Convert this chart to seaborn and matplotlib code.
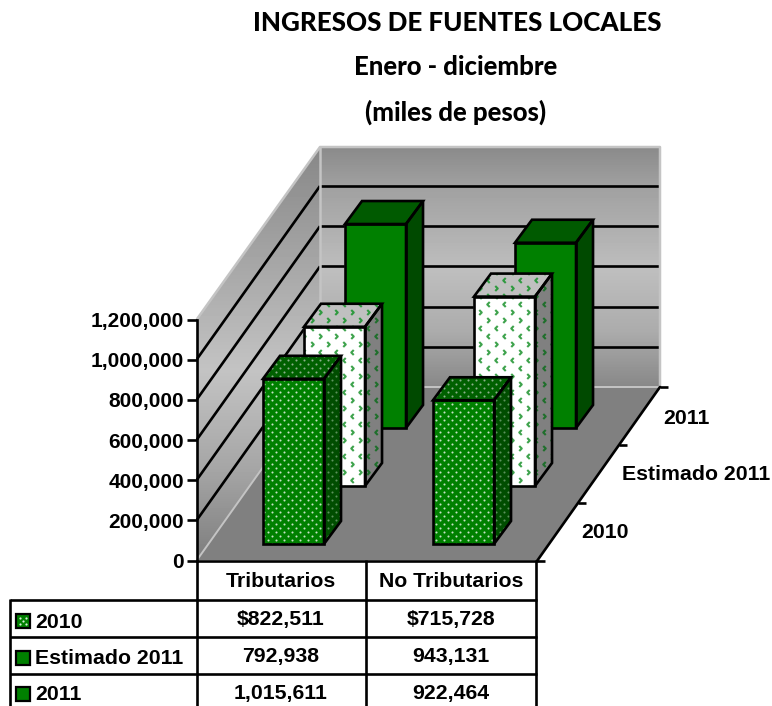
import numpy as np
import pandas as pd
import matplotlib
matplotlib.use('Agg')
import matplotlib.pyplot as plt
import seaborn as sns
from matplotlib.patches import Polygon, Rectangle
from matplotlib.path import Path
from matplotlib.transforms import Affine2D

# Data
categories = ['Tributarios', 'No Tributarios']
series_names = ['2010', 'Estimado 2011', '2011']
values_2010 = [822511, 715728]
values_est = [792938, 943131]
values_2011 = [1015611, 922464]
row_2010 = ['$822,511', '$715,728']
row_est = ['792,938', '943,131']
row_2011 = ['1,015,611', '922,464']
y_ticks = [0, 200000, 400000, 600000, 800000, 1000000, 1200000]

W, H = 772, 706
sns.set_theme(style='white')
plt.rcParams['font.family'] = ['Liberation Sans', 'DejaVu Sans']

fig = plt.figure(figsize=(W / 100, H / 100), dpi=100, facecolor='white')
px = Affine2D().scale(1, -1).translate(0, H)  # picture pixels, y going down

LW = 1.9
FS = 15.3


def make_axes(x0, y_bottom, x1, y_top):
    return fig.add_axes([x0 / W, 1 - y_bottom / H, (x1 - x0) / W, (y_bottom - y_top) / H])


# Background: walls, floor, gridlines
bg = fig.add_axes([0, 0, 1, 1])
bg.set_xlim(0, W)
bg.set_ylim(H, 0)
bg.axis('off')


def gradient_wall(verts, ys, greys):
    rows = np.arange(147, 562)
    shade = np.interp(rows, ys, greys)[:, None]
    im = bg.imshow(shade, cmap='gray', vmin=0, vmax=255, aspect='auto', extent=(190, 670, 562, 147))
    clip = Polygon(verts, closed=True, fc='none', ec='none')
    bg.add_patch(clip)
    im.set_clip_path(clip)


gradient_wall([(320, 147), (660, 147), (660, 387), (320, 387)], [147, 185, 270, 330, 387], [138, 160, 190, 172, 135])
gradient_wall([(197, 319), (320, 147), (320, 387), (197, 560)], [147, 370, 470, 560], [135, 195, 165, 125])
bg.set_xlim(0, W)
bg.set_ylim(H, 0)
bg.add_patch(Polygon([(197, 560), (537, 560), (660, 387), (320, 387)], closed=True, fc='#808080', ec='none'))

for k in range(1, 6):
    yb = 387 - 40.2 * k
    bg.plot([320, 660], [yb, yb], color='black', lw=LW, solid_capstyle='butt')
    bg.plot([197, 320], [560 - 40.2 * k, yb], color='black', lw=LW, solid_capstyle='butt')

edge = '#c4c4c4'
bg.plot([197, 320, 660, 660], [319, 147, 147, 387], color=edge, lw=1.8)
bg.plot([320, 320], [147, 387], color=edge, lw=1.8)
bg.plot([197, 320, 660], [560, 387, 387], color=edge, lw=1.4)

# front plane axes, gives the value axis
front = make_axes(197, 560.5, 537, 319.5)
front.patch.set_alpha(0)
front.set_ylim(0, 1200000)
front.set_xlim(0, 1)
front.set_yticks(y_ticks)
front.set_yticklabels([f'{v:,}' for v in y_ticks], fontsize=15.05, fontweight='bold', color='black')
front.set_xticks([])
front.tick_params(axis='y', left=True, length=7.5, width=LW, color='black', pad=2)
sns.despine(ax=front, top=True, right=True, bottom=True)
front.spines['left'].set_linewidth(LW)
front.spines['left'].set_color('black')

DEPTH = (17, -23)
GREEN = '#008000'
styles = [
    {'front': GREEN, 'top': '#006000', 'side': '#004d00', 'kind': 'dots',
     'pat': ['#c6e2c6', '#8cb08c', '#5c925c']},
    {'front': '#ffffff', 'top': '#c0c0c0', 'side': '#808080', 'kind': 'chev',
     'pat': ['#3fa34d', '#2f9a40', '#1f6f2c']},
    {'front': GREEN, 'top': '#005a00', 'side': '#004a00', 'kind': None, 'pat': None},
]
chev = Path([(0.5, 1), (-0.5, 0), (0.5, -1)], [Path.MOVETO, Path.LINETO, Path.LINETO])
chev_r = Path([(-0.5, 1), (0.5, 0), (-0.5, -1)], [Path.MOVETO, Path.LINETO, Path.LINETO])


def fill_pattern(ax, verts, face, kind, color):
    poly = Polygon(verts, closed=True, fc=face, ec='none', transform=px, clip_on=False)
    ax.add_patch(poly)
    if kind is None:
        return
    xs = [v[0] for v in verts]
    ys = [v[1] for v in verts]
    if kind == 'dots':
        gy = np.arange(int(min(ys)) // 4 * 4, max(ys) + 4, 4)
        pts = [(x + (2 if int(y) % 8 else 0) * 2, y) for y in gy
               for x in np.arange(int(min(xs)) // 8 * 8 - 8, max(xs) + 8, 8)]
        arr = np.array(pts)
        art, = ax.plot(arr[:, 0], arr[:, 1], ls='', marker='o', ms=1.5, mew=0, color=color,
                       transform=px, scalex=False, scaley=False)
        art.set_clip_path(poly)
    else:
        gy = np.arange(int(min(ys)) // 8 * 8, max(ys) + 8, 8)
        for n, y in enumerate(gy):
            gx = np.arange(int(min(xs)) // 16 * 16 - 16, max(xs) + 16, 16) + (8 if n % 2 else 0)
            art, = ax.plot(gx + 0.0, np.full(len(gx), y), ls='', marker=chev if n % 4 < 2 else chev_r,
                           ms=3.6, mew=1.5, mfc='none', color=color, transform=px,
                           scalex=False, scaley=False)
            art.set_clip_path(poly)


def key(x, y, face, dotted):
    bg.add_patch(Rectangle((x, y), 14, 14, fc=face, ec='black', lw=1.6, zorder=5))
    if dotted:
        dx = [x + 4, x + 10, x + 7, x + 4, x + 10]
        dy = [y + 4, y + 4, y + 7, y + 10, y + 10]
        bg.plot(dx, dy, ls='', marker='o', ms=1.6, mew=0, color='#d8ecd8', zorder=6)


# One axes per series, back to front, shifted along the depth direction
all_values = [values_2010, values_est, values_2011]
for i in [2, 1, 0]:
    ox = 11.5 + 41 * i
    oy = 544 - 58 * i
    ax = make_axes(197 + ox, oy, 537 + ox, oy - 241)
    df = pd.DataFrame({'category': categories, 'value': all_values[i]})
    sns.barplot(data=df, x='category', y='value', color=styles[i]['front'], saturation=1,
                width=0.359, errorbar=None, ax=ax)
    ax.set_xlim(-0.5, 1.5)
    ax.set_ylim(0, 1200000)
    ax.autoscale(False)
    ax.axis('off')
    st = styles[i]
    for bar in list(ax.patches):
        x0, y0 = ax.transData.transform((bar.get_x(), 0))
        x1, y1 = ax.transData.transform((bar.get_x() + bar.get_width(), bar.get_height()))
        y0, y1 = H - y0, H - y1
        dx, dy = DEPTH
        front_v = [(x0, y0), (x1, y0), (x1, y1), (x0, y1)]
        top_v = [(x0, y1), (x1, y1), (x1 + dx, y1 + dy), (x0 + dx, y1 + dy)]
        side_v = [(x1, y0), (x1 + dx, y0 + dy), (x1 + dx, y1 + dy), (x1, y1)]
        pats = st['pat'] or [None, None, None]
        fill_pattern(ax, front_v, st['front'], st['kind'], pats[0])
        fill_pattern(ax, top_v, st['top'], st['kind'], pats[1])
        fill_pattern(ax, side_v, st['side'], st['kind'], pats[2])
        for v in (front_v, top_v, side_v):
            ax.add_patch(Polygon(v, closed=True, fc='none', ec='black', lw=LW, joinstyle='miter',
                                 transform=px, clip_on=False, zorder=4))

# Depth axis
bg.plot([537, 660], [561, 387], color='black', lw=LW)
for n in range(4):
    tx = 537 + 41 * n
    ty = 561 - 58 * n
    bg.plot([tx, tx + 8], [ty, ty], color='black', lw=LW, solid_capstyle='butt')
for name, tx, ty in zip(series_names, [605, 696, 686], [533, 475, 418]):
    bg.text(tx, ty, name, ha='center', va='center', fontsize=FS, fontweight='bold', color='black')

# Data table under the chart
bg.plot([197, 537], [561, 561], color='black', lw=LW, zorder=3)
for yy in [600, 637, 674]:
    bg.plot([10, 537], [yy, yy], color='black', lw=LW, solid_capstyle='butt')
bg.plot([10, 10], [599, H], color='black', lw=LW, solid_capstyle='butt')
for xx in [197, 366, 536]:
    bg.plot([xx, xx], [560, H], color='black', lw=LW, solid_capstyle='butt')
bg.set_xlim(0, W)
bg.set_ylim(H, 0)

for name, cx in zip(categories, [281, 451]):
    bg.text(cx, 581.5, name, ha='center', va='center', fontsize=FS, fontweight='bold', color='black')
rows = [row_2010, row_est, row_2011]
for r, ry, ky, face, dotted in zip(rows, [619.5, 656.5, 693], [614, 651, 687],
                                   [GREEN, GREEN, GREEN], [True, False, False]):
    bg.text(281, ry, r[0], ha='center', va='center', fontsize=FS, fontweight='bold', color='black')
    bg.text(451, ry, r[1], ha='center', va='center', fontsize=FS, fontweight='bold', color='black')
    key(16, ky, face, dotted)
for name, ly in zip(series_names, [622, 658, 695]):
    bg.text(35, ly, name, ha='left', va='center', fontsize=FS, fontweight='bold', color='black')

# Titles
bg.text(457, 23, 'INGRESOS DE FUENTES LOCALES', ha='center', va='center', fontsize=18.7,
        fontweight=900, family='Lato', color='black')
bg.text(456, 67, 'Enero - diciembre', ha='center', va='center', fontsize=18.5,
        fontweight=900, family='Lato', color='black')
bg.text(456, 112, '(miles de pesos)', ha='center', va='center', fontsize=18.5,
        fontweight=900, family='Lato', color='black')

fig.savefig('out.png', dpi=100)
